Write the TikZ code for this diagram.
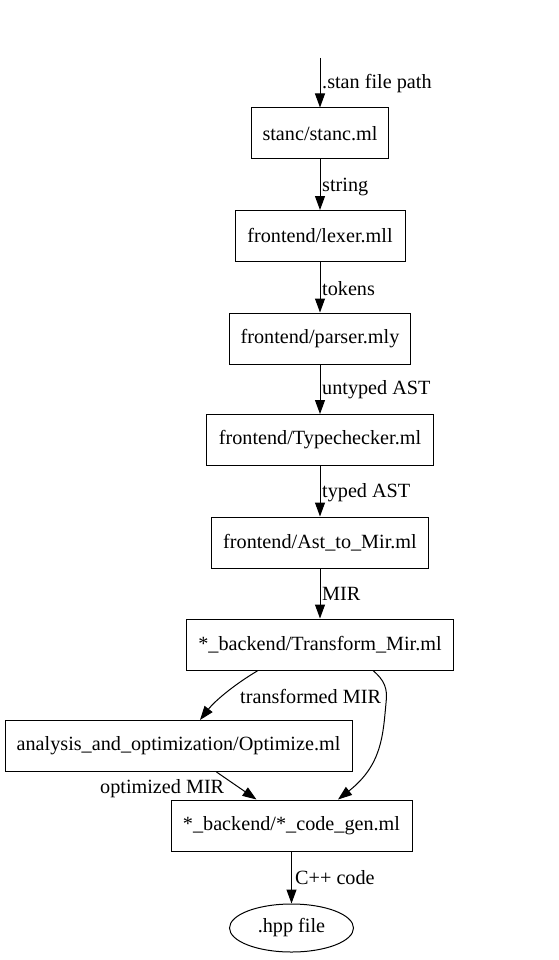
\documentclass[tikz,border=0pt]{standalone}
\usepackage{fontspec}
\setmainfont{Liberation Serif}
\usetikzlibrary{arrows.meta,shapes.geometric}
\begin{document}
\begin{tikzpicture}[x=1pt,y=-1pt,
  every node/.style={font=\fontsize{20.2}{24}\selectfont},
  box/.style={draw,line width=1pt,minimum height=51pt,inner sep=0pt},
  lbl/.style={anchor=west,inner sep=0pt},
  arr/.style={line width=1pt,-{Triangle[length=14pt,width=10pt]}}]
\useasboundingbox (0,0) rectangle (558,960);
\coordinate (start) at (320,58);
\node[box,minimum width=137pt] (stanc) at (320,133.5) {stanc/stanc.ml};
\node[box,minimum width=170pt] (lexer) at (320,236) {frontend/lexer.mll};
\node[box,minimum width=181pt] (parser) at (320,338.5) {frontend/parser.mly};
\node[box,minimum width=227pt] (tc) at (320,440) {frontend/Typechecker.ml};
\node[box,minimum width=217pt] (atm) at (320,542.5) {frontend/Ast\_to\_Mir.ml};
\node[box,minimum width=267pt] (tm) at (320,644.5) {*\_backend/Transform\_Mir.ml};
\node[box,minimum width=347pt] (opt) at (178.5,746) {analysis\_and\_optimization/Optimize.ml};
\node[box,minimum width=241pt] (cg) at (291.5,825.5) {*\_backend/*\_code\_gen.ml};
\node[draw,ellipse,line width=1pt,minimum width=124pt,minimum height=48pt,inner sep=0pt] (hpp) at (291.5,928) {.hpp file};
\draw[arr] (start) -- (stanc.north);
\draw[arr] (stanc.south) -- (lexer.north);
\draw[arr] (lexer.south) -- (parser.north);
\draw[arr] (parser.south) -- (tc.north);
\draw[arr] (tc.south) -- (atm.north);
\draw[arr] (atm.south) -- (tm.north);
\draw[arr] ([xshift=-62pt]tm.south) .. controls (232,686) and (214,702) .. ([xshift=21.5pt]opt.north);
\draw[arr] ([xshift=53pt]tm.south) .. controls (384,680) and (388,688) .. (386,703) .. controls (383,735) and (382,765) .. ([xshift=46.5pt]cg.north);
\draw[arr] ([xshift=38pt]opt.south) -- ([xshift=-35pt]cg.north);
\draw[arr] (cg.south) -- (hpp.north);
\node[lbl] (l1) at (322,84) {.stan file path};
\node[lbl] (l2) at (322,187) {string};
\node[lbl] (l3) at (322,289) {tokens};
\node[lbl] (l4) at (322,390) {untyped AST};
\node[lbl] (l5) at (322,493) {typed AST};
\node[lbl] (l6) at (322,594) {MIR};
\node[lbl] (l7) at (240,696) {transformed MIR};
\node[lbl] (l8) at (100,789) {optimized MIR};
\node[lbl] (l9) at (295,878) {C++ code};
\end{tikzpicture}
\end{document}
